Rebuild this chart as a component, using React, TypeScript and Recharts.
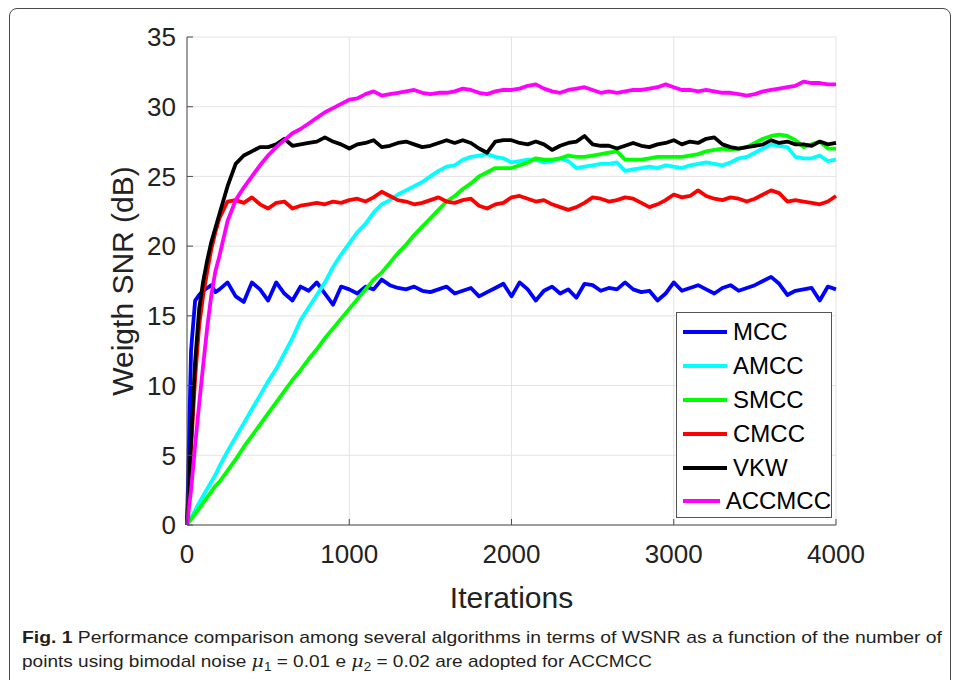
import React from 'react';
import { LineChart, Line, XAxis, YAxis, CartesianGrid } from 'recharts';

const iterations = [
  0, 10, 25, 50, 75, 100, 125, 150, 175, 200,
  250, 300, 350, 400, 450, 500, 550, 600, 650, 700,
  750, 800, 850, 900, 950, 1000, 1050, 1100, 1150, 1200,
  1250, 1300, 1350, 1400, 1450, 1500, 1550, 1600, 1650, 1700,
  1750, 1800, 1850, 1900, 1950, 2000, 2050, 2100, 2150, 2200,
  2250, 2300, 2350, 2400, 2450, 2500, 2550, 2600, 2650, 2700,
  2750, 2800, 2850, 2900, 2950, 3000, 3050, 3100, 3150, 3200,
  3250, 3300, 3350, 3400, 3450, 3500, 3550, 3600, 3650, 3700,
  3750, 3800, 3850, 3900, 3950, 4000,
];

const mcc = [
  0, 5, 12.5, 16.1, 16.5, 16.8, 17.0, 17.2, 16.7, 16.9,
  17.4, 16.4, 16.0, 17.4, 16.9, 16.1, 17.4, 16.6, 16.1, 17.1,
  16.8, 17.4, 16.6, 15.8, 17.1, 16.9, 16.6, 17.1, 16.9, 17.6,
  17.2, 17.0, 16.9, 17.1, 16.8, 16.7, 16.9, 17.1, 16.6, 16.8,
  17.0, 16.4, 16.7, 17.0, 17.3, 16.4, 17.4, 16.9, 16.1, 16.8,
  17.1, 16.6, 16.9, 16.3, 17.3, 17.2, 16.8, 17.0, 16.9, 17.4,
  16.9, 16.7, 16.8, 16.1, 16.6, 17.4, 16.8, 17.0, 17.2, 16.9,
  16.6, 17.0, 17.2, 16.8, 17.0, 17.2, 17.5, 17.8, 17.3, 16.5,
  16.8, 16.9, 17.0, 16.1, 17.1, 16.9,
];

const amcc = [
  0, 0.25, 0.55, 1.05, 1.6, 2.1, 2.6, 3.1, 3.6, 4.2,
  5.3, 6.3, 7.3, 8.3, 9.3, 10.3, 11.2, 12.3, 13.4, 14.7,
  15.6, 16.5, 17.4, 18.5, 19.4, 20.2, 21.0, 21.6, 22.4, 23.0,
  23.3, 23.7, 24.0, 24.3, 24.6, 25.0, 25.4, 25.7, 25.8, 26.2,
  26.4, 26.5, 26.6, 26.4, 26.3, 26.0, 26.1, 26.2, 26.2, 26.0,
  26.1, 26.3, 26.1, 25.6, 25.7, 25.8, 25.9, 25.9, 26.0, 25.4,
  25.5, 25.6, 25.7, 25.6, 25.8, 25.7, 25.6, 25.8, 25.9, 26.0,
  25.9, 25.8, 26.0, 26.3, 26.4, 26.7, 27.0, 27.3, 27.2, 27.1,
  26.4, 26.3, 26.3, 26.5, 26.1, 26.2,
];

const smcc = [
  0, 0.2, 0.4, 0.8, 1.2, 1.6, 2.0, 2.4, 2.8, 3.1,
  3.9, 4.7, 5.6, 6.4, 7.2, 8.0, 8.8, 9.6, 10.4, 11.1,
  11.9, 12.6, 13.4, 14.1, 14.8, 15.5, 16.2, 16.9, 17.6, 18.1,
  18.8, 19.5, 20.1, 20.8, 21.4, 22.0, 22.6, 23.2, 23.6, 24.1,
  24.5, 25.0, 25.3, 25.6, 25.6, 25.6, 25.8, 26.0, 26.3, 26.2,
  26.2, 26.3, 26.5, 26.4, 26.4, 26.5, 26.6, 26.7, 26.8, 26.2,
  26.2, 26.2, 26.3, 26.4, 26.4, 26.4, 26.4, 26.5, 26.6, 26.8,
  26.9, 27.0, 26.9, 27.0, 27.1, 27.4, 27.7, 27.9, 28.0, 27.9,
  27.6, 27.1, 27.3, 27.5, 27.0, 27.0,
];

const cmcc = [
  0, 2, 5.5, 10.5, 14.3, 16.5, 18.2, 19.8, 21.0, 22.0,
  23.2, 23.3, 23.1, 23.5, 23.0, 22.7, 23.1, 23.2, 22.7, 22.9,
  23.0, 23.1, 23.0, 23.2, 23.1, 23.3, 23.4, 23.2, 23.5, 23.9,
  23.6, 23.3, 23.2, 23.0, 23.1, 23.3, 23.5, 23.2, 23.1, 23.3,
  23.4, 22.9, 22.7, 23.0, 23.1, 23.5, 23.6, 23.4, 23.2, 23.3,
  23.0, 22.8, 22.6, 22.8, 23.1, 23.5, 23.4, 23.2, 23.3, 23.5,
  23.4, 23.1, 22.8, 23.0, 23.3, 23.7, 23.5, 23.6, 24.0, 23.6,
  23.4, 23.3, 23.5, 23.4, 23.2, 23.4, 23.7, 24.0, 23.8, 23.2,
  23.3, 23.2, 23.1, 23.0, 23.2, 23.6,
];

const vkw = [
  0, 2.5, 6, 11.7, 15.5, 17.5, 19.0, 20.3, 21.3, 22.3,
  24.3, 25.9, 26.5, 26.8, 27.1, 27.1, 27.3, 27.7, 27.2, 27.3,
  27.4, 27.5, 27.8, 27.5, 27.3, 27.0, 27.3, 27.4, 27.6, 27.1,
  27.2, 27.4, 27.5, 27.3, 27.1, 27.2, 27.4, 27.6, 27.4, 27.6,
  27.4, 27.0, 26.7, 27.5, 27.6, 27.6, 27.4, 27.3, 27.5, 27.3,
  26.9, 27.2, 27.4, 27.5, 27.9, 27.3, 27.2, 27.2, 27.0, 27.2,
  27.4, 27.2, 27.1, 27.3, 27.4, 27.6, 27.3, 27.5, 27.4, 27.7,
  27.8, 27.3, 27.1, 27.0, 27.1, 27.2, 27.3, 27.6, 27.4, 27.5,
  27.3, 27.3, 27.2, 27.5, 27.3, 27.4,
];

const accmcc = [
  0, 1, 2.5, 5.7, 8.7, 11.5, 14.2, 16.5, 18.2, 19.3,
  21.8, 23.3, 24.2, 25.0, 25.8, 26.5, 27.1, 27.6, 28.1, 28.4,
  28.8, 29.2, 29.6, 29.9, 30.2, 30.5, 30.6, 30.9, 31.1, 30.8,
  30.9, 31.0, 31.1, 31.2, 31.0, 30.9, 31.0, 31.0, 31.1, 31.3,
  31.2, 31.0, 30.9, 31.1, 31.2, 31.2, 31.3, 31.5, 31.6, 31.3,
  31.1, 31.0, 31.2, 31.3, 31.4, 31.2, 31.0, 31.1, 31.0, 31.1,
  31.2, 31.2, 31.3, 31.4, 31.6, 31.4, 31.2, 31.2, 31.1, 31.2,
  31.1, 31.0, 31.0, 30.9, 30.8, 30.9, 31.1, 31.2, 31.3, 31.4,
  31.5, 31.8, 31.7, 31.7, 31.6, 31.6,
];

const seriesNames = ['MCC', 'AMCC', 'SMCC', 'CMCC', 'VKW', 'ACCMCC'];
const seriesColors = ['#0000ff', '#00ffff', '#00ff00', '#ff0000', '#000000', '#ff00ff'];
const seriesValues = [mcc, amcc, smcc, cmcc, vkw, accmcc];

const xTicks = [0, 1000, 2000, 3000, 4000];
const yTicks = [0, 5, 10, 15, 20, 25, 30, 35];

const data = iterations.map((it, i) => {
  const row: Record<string, number> = { it };
  seriesNames.forEach((n, k) => {
    row[n] = seriesValues[k][i];
  });
  return row;
});

const FONT = '"Liberation Sans", Arial, Helvetica, sans-serif';
const AXIS_COLOR = '#4d4d4d';
const TEXT_COLOR = '#222222';

function LegendBox() {
  return (
    <div
      style={{
        position: 'absolute',
        left: 676,
        top: 312,
        width: 156,
        height: 206,
        boxSizing: 'border-box',
        border: '1px solid #555',
        background: '#fff',
        paddingTop: 2,
        overflow: 'visible',
        fontFamily: FONT,
      }}
    >
      {seriesNames.map((n, k) => (
        <div key={n} style={{ display: 'flex', alignItems: 'center', height: 33.9, whiteSpace: 'nowrap' }}>
          <div style={{ width: 44, height: 4, background: seriesColors[k], marginLeft: 6, marginRight: 6 }} />
          <span style={{ fontSize: 24, color: '#000', lineHeight: '24px' }}>{n}</span>
        </div>
      ))}
    </div>
  );
}

export default function App() {
  return (
    <div style={{ position: 'absolute', left: 0, top: 0, width: 954, height: 680, background: '#fff', overflow: 'hidden' }}>
      <div
        style={{
          position: 'absolute',
          left: 9,
          top: 8,
          width: 942,
          height: 700,
          boxSizing: 'border-box',
          border: '1px solid #4a4a4a',
          borderRadius: 8,
        }}
      />
      <div style={{ position: 'absolute', left: 0, top: 0 }}>
        <LineChart
          width={954}
          height={620}
          data={data}
          margin={{ top: 37, right: 118, bottom: 0, left: 58 }}
          style={{ fontFamily: FONT }}
        >
          <CartesianGrid stroke="#e3e3e3" strokeWidth={1} />
          <XAxis
            dataKey="it"
            type="number"
            domain={[0, 4000]}
            ticks={xTicks}
            height={95}
            stroke={AXIS_COLOR}
            tickSize={-6}
            tickMargin={26}
            tick={{ fontSize: 26, fill: TEXT_COLOR, fontFamily: FONT }}
            label={{ value: 'Iterations', position: 'insideBottom', offset: 12, fontSize: 30, fill: TEXT_COLOR, fontFamily: FONT }}
          />
          <XAxis
            xAxisId="top"
            orientation="top"
            dataKey="it"
            type="number"
            domain={[0, 4000]}
            ticks={xTicks}
            height={0}
            stroke={AXIS_COLOR}
            tickSize={-6}
            tick={false}
          />
          <YAxis
            type="number"
            domain={[0, 35]}
            ticks={yTicks}
            width={129}
            stroke={AXIS_COLOR}
            tickSize={-6}
            tickMargin={17}
            tick={{ fontSize: 26, fill: TEXT_COLOR, fontFamily: FONT }}
            label={{ value: 'Weigth SNR (dB)', angle: -90, position: 'center', fontSize: 30, fill: TEXT_COLOR, fontFamily: FONT }}
          />
          <YAxis
            yAxisId="right"
            orientation="right"
            type="number"
            domain={[0, 35]}
            ticks={yTicks}
            width={0}
            stroke={AXIS_COLOR}
            tickSize={-6}
            tick={false}
          />
          {seriesNames.map((n, k) => (
            <Line
              key={n}
              type="linear"
              dataKey={n}
              name={n}
              stroke={seriesColors[k]}
              strokeWidth={3.8}
              strokeLinejoin="round"
              dot={false}
              activeDot={false}
              isAnimationActive={false}
            />
          ))}
        </LineChart>
      </div>
      <LegendBox />
      <svg
        width={954}
        height={60}
        style={{ position: 'absolute', left: 0, top: 620 }}
        fontFamily='"Liberation Sans Narrow", "Liberation Sans", Arial, sans-serif'
        fill="#231f20"
      >
        <text x={22} y={23} fontSize={17} textLength={920} lengthAdjust="spacingAndGlyphs">
          <tspan fontWeight="bold">Fig. 1</tspan>
          <tspan>{'  Performance comparison among several algorithms in terms of WSNR as a function of the number of'}</tspan>
        </text>
        <text x={22} y={47} fontSize={17} textLength={630} lengthAdjust="spacingAndGlyphs">
          <tspan>{'points using bimodal noise '}</tspan>
          <tspan fontStyle="italic" fontFamily="'DejaVu Serif', serif">μ</tspan>
          <tspan fontSize={12} dy={4}>1</tspan>
          <tspan dy={-4}>{' = 0.01 e '}</tspan>
          <tspan fontStyle="italic" fontFamily="'DejaVu Serif', serif">μ</tspan>
          <tspan fontSize={12} dy={4}>2</tspan>
          <tspan dy={-4}>{' = 0.02 are adopted for ACCMCC'}</tspan>
        </text>
      </svg>
    </div>
  );
}
